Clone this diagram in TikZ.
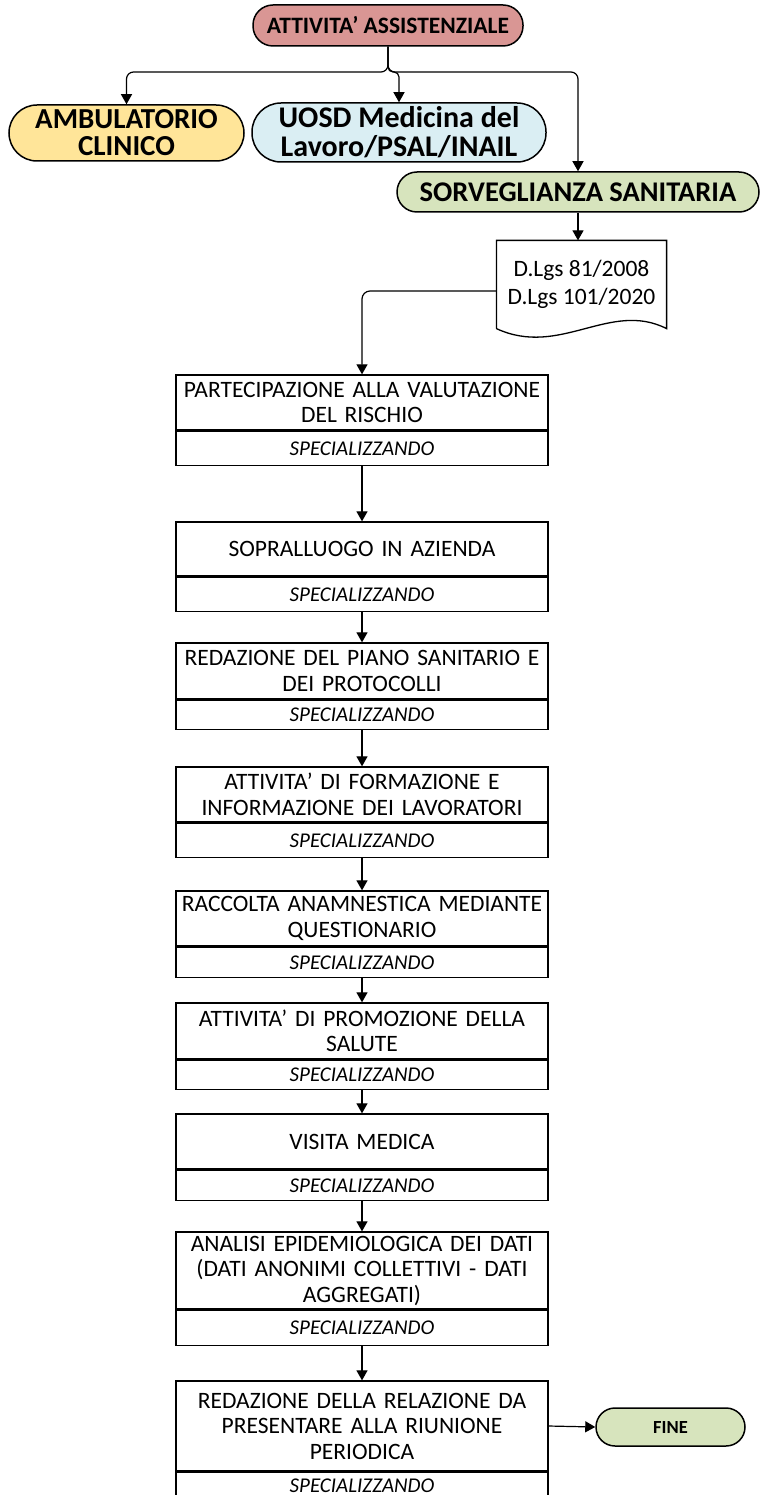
\documentclass[tikz,border=0pt]{standalone}
\usepackage{fontspec}
\setmainfont{Carlito}
\usetikzlibrary{positioning}
\usetikzlibrary{arrows.meta}

\begin{document}
\begin{tikzpicture}[x=1pt,y=-1pt,>={Triangle[length=10pt,width=11pt]},
		line width=1.2pt,
		fase/.style={draw,line width=1.3pt,minimum width=372pt,text width=370pt,align=center,inner sep=0pt,font=\fontsize{23.5}{25.5}\selectfont},
		ruolo/.style={draw,line width=1.3pt,minimum width=372pt,inner sep=0pt,font=\fontsize{21}{22}\selectfont\itshape},
		capo/.style={draw,line width=1.5pt,inner sep=0pt,align=center,font=\bfseries}]
		
		\useasboundingbox (0,0) rectangle (760,1495);
		
		% livello superiore
		\node[capo,fill={rgb,255:red,217;green,150;blue,148},rounded corners=20pt,minimum width=270pt,minimum height=41pt,font=\fontsize{23.5}{24}\selectfont\bfseries] (att) at (388,25.5) {ATTIVITA’ ASSISTENZIALE};
		\node[capo,fill={rgb,255:red,255;green,229;blue,153},rounded corners=28pt,minimum width=235pt,minimum height=56pt,font=\fontsize{29}{27}\selectfont\bfseries] (amb) at (126.5,133) {AMBULATORIO\\CLINICO};
		\node[capo,fill={rgb,255:red,218;green,238;blue,243},rounded corners=29pt,minimum width=294pt,minimum height=59pt,font=\fontsize{30}{29}\selectfont\bfseries] (uosd) at (399,132.5) {UOSD Medicina del\\Lavoro/PSAL/INAIL};
		\node[capo,fill={rgb,255:red,215;green,228;blue,189},rounded corners=20pt,minimum width=362pt,minimum height=40pt,font=\fontsize{28.5}{28}\selectfont\bfseries] (sorv) at (578,192) {SORVEGLIANZA SANITARIA};
		\coordinate (split) at (388,72);
		
		\draw[->,rounded corners=7pt] (att.south) -- (split) -| (amb.north);
		\draw[->,rounded corners=5pt] (att.south) -- (split) -| (uosd.north);
		\draw[->,rounded corners=7pt] (att.south) -- (split) -| (sorv.north);
		
		% normativa
		\node[minimum width=169pt,minimum height=87pt,inner sep=0pt,align=center,font=\fontsize{23.5}{28}\selectfont] (norm) at (581.5,284.5) {D.Lgs 81/2008\\D.Lgs 101/2020};
		\draw[line width=1.3pt] (norm.south west) -- (norm.north west) -- (norm.north east) -- (norm.south east)
			.. controls (610,300) and (560,358) .. (norm.south west);
		\draw[->] (sorv.south) -- (sorv.south |- norm.north);
		
		% fasi
		\node[fase,minimum height=55pt] (p1) at (362,402.5) {PARTECIPAZIONE ALLA VALUTAZIONE\\DEL RISCHIO};
		\node[ruolo,minimum height=34pt,below=0pt of p1] (s1) {SPECIALIZZANDO};
		\node[fase,minimum height=54pt] (p2) at (362,549) {SOPRALLUOGO IN AZIENDA};
		\node[ruolo,minimum height=34pt,below=0pt of p2] (s2) {SPECIALIZZANDO};
		\node[fase,minimum height=56pt] (p3) at (362,671) {REDAZIONE DEL PIANO SANITARIO E\\DEI PROTOCOLLI};
		\node[ruolo,minimum height=29pt,below=0pt of p3] (s3) {SPECIALIZZANDO};
		\node[fase,minimum height=55pt] (p4) at (362,794.5) {ATTIVITA’ DI FORMAZIONE E\\INFORMAZIONE DEI LAVORATORI};
		\node[ruolo,minimum height=34pt,below=0pt of p4] (s4) {SPECIALIZZANDO};
		\node[fase,minimum height=55pt] (p5) at (362,918.5) {RACCOLTA ANAMNESTICA MEDIANTE\\QUESTIONARIO};
		\node[ruolo,minimum height=30pt,below=0pt of p5] (s5) {SPECIALIZZANDO};
		\node[fase,minimum height=56pt] (p6) at (362,1031) {ATTIVITA’ DI PROMOZIONE DELLA\\SALUTE};
		\node[ruolo,minimum height=29pt,below=0pt of p6] (s6) {SPECIALIZZANDO};
		\node[fase,minimum height=55pt] (p7) at (362,1141.5) {VISITA MEDICA};
		\node[ruolo,minimum height=30pt,below=0pt of p7] (s7) {SPECIALIZZANDO};
		\node[fase,minimum height=77pt] (p8) at (362,1270.5) {ANALISI EPIDEMIOLOGICA DEI DATI\\(DATI ANONIMI COLLETTIVI - DATI\\AGGREGATI)};
		\node[ruolo,minimum height=35pt,below=0pt of p8] (s8) {SPECIALIZZANDO};
		\node[fase,minimum height=90pt] (p9) at (362,1426) {REDAZIONE DELLA RELAZIONE DA\\PRESENTARE ALLA RIUNIONE\\PERIODICA};
		\node[ruolo,minimum height=26pt,below=0pt of p9] (s9) {SPECIALIZZANDO};
		
		\node[capo,fill={rgb,255:red,215;green,228;blue,189},rounded corners=19pt,minimum width=149pt,minimum height=38pt,font=\fontsize{18.5}{20}\selectfont\bfseries] (fine) at (670.5,1427) {FINE};
		
		\draw[->,rounded corners=8pt] ([yshift=-6.5pt]norm.west) -| (p1.north);
		\draw[->] (s1.south) -- (p2.north);
		\draw[->] (s2.south) -- (p3.north);
		\draw[->] (s3.south) -- (p4.north);
		\draw[->] (s4.south) -- (p5.north);
		\draw[->] (s5.south) -- (p6.north);
		\draw[->] (s6.south) -- (p7.north);
		\draw[->] (s7.south) -- (p8.north);
		\draw[->] (s8.south) -- (p9.north);
		\draw[->] (p9.east) -- (fine.west);
\end{tikzpicture}
\end{document}
